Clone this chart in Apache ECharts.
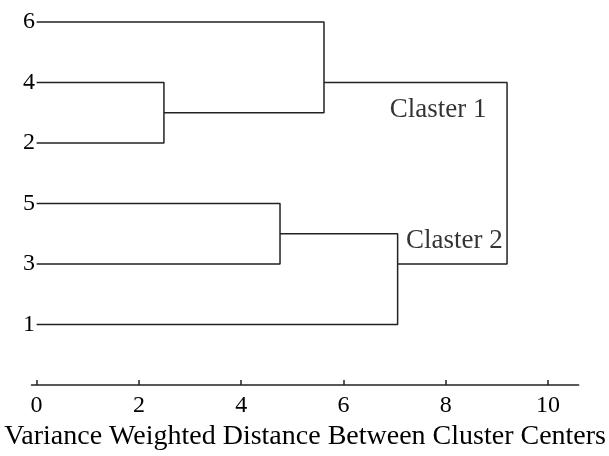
<!DOCTYPE html>
<html>
<head>
<meta charset="utf-8">
<script src="https://cdn.jsdelivr.net/npm/echarts@6/dist/echarts.min.js"></script>
<style>
html,body{margin:0;padding:0;background:#fff;}
#main{width:609px;height:456px;}
</style>
</head>
<body>
<div id="main"></div>
<script>
// Leaves from bottom (position 1) to top (position 6)
const leafOrder = ['1', '3', '5', '2', '4', '6'];
// Merge steps: cluster Gi is formed by merge i (1-based)
const mergeA = ['4', '6', '5', '1', 'G2'];
const mergeB = ['2', 'G1', '3', 'G3', 'G4'];
const mergeDist = [2.49, 5.62, 4.76, 7.06, 9.2];
// x axis ticks
const xTicks = [0, 2, 4, 6, 8, 10];
// annotations
const clusterLabels = ['Claster 1', 'Claster 2'];
const clusterX = [7.85, 8.17];
const clusterY = [4.545, 2.384];

// node positions
const nodeX = {}, nodeY = {}, nodeLeaves = {};
leafOrder.forEach((l, i) => { nodeX[l] = 0; nodeY[l] = i + 1; nodeLeaves[l] = [i + 1]; });
const series = [];
mergeDist.forEach((d, i) => {
  const a = mergeA[i], b = mergeB[i], g = 'G' + (i + 1);
  nodeLeaves[g] = nodeLeaves[a].concat(nodeLeaves[b]);
  nodeX[g] = d;
  nodeY[g] = nodeLeaves[g].reduce((s, v) => s + v, 0) / nodeLeaves[g].length;
  series.push({
    type: 'line',
    data: [[nodeX[a], nodeY[a]], [d, nodeY[a]], [d, nodeY[b]], [nodeX[b], nodeY[b]]],
    symbol: 'none',
    lineStyle: { color: '#222', width: 1.5 },
    silent: true,
    animation: false
  });
});
series.push({
  type: 'scatter',
  symbolSize: 0,
  data: clusterLabels.map((t, i) => [clusterX[i], clusterY[i], t]),
  label: {
    show: true,
    position: 'inside',
    formatter: p => p.data[2],
    fontFamily: 'Liberation Serif',
    fontSize: 27,
    color: '#000'
  },
  silent: true,
  animation: false
});

const chart = echarts.init(document.getElementById('main'), null, { renderer: 'canvas' });
chart.setOption({
  backgroundColor: '#fff',
  animation: false,
  grid: { left: 31.5, right: 22.1, top: 10, bottom: 58.7, containLabel: false },
  xAxis: {
    type: 'value',
    min: -0.1,
    max: 10.6,
    name: 'Variance Weighted Distance Between Cluster Centers',
    nameLocation: 'middle',
    nameGap: 27,
    nameTextStyle: { fontFamily: 'Liberation Serif', fontSize: 28, color: '#000' },
    splitLine: { show: false },
    axisLine: { show: true, lineStyle: { color: '#222', width: 1.5 } },
    axisTick: { show: true, inside: true, length: 5, customValues: xTicks, lineStyle: { color: '#222', width: 1.5 } },
    axisLabel: { customValues: xTicks, margin: 9, fontFamily: 'Liberation Serif', fontSize: 24, color: '#000' }
  },
  yAxis: {
    type: 'value',
    min: 0,
    max: 6.2,
    splitLine: { show: false },
    axisLine: { show: false },
    axisTick: { show: false },
    axisLabel: {
      customValues: leafOrder.map((l, i) => i + 1),
      formatter: v => leafOrder[Math.round(v) - 1] || '',
      margin: -3.5,
      fontFamily: 'Liberation Serif',
      fontSize: 24,
      color: '#000'
    }
  },
  series: series
});
</script>
</body>
</html>
